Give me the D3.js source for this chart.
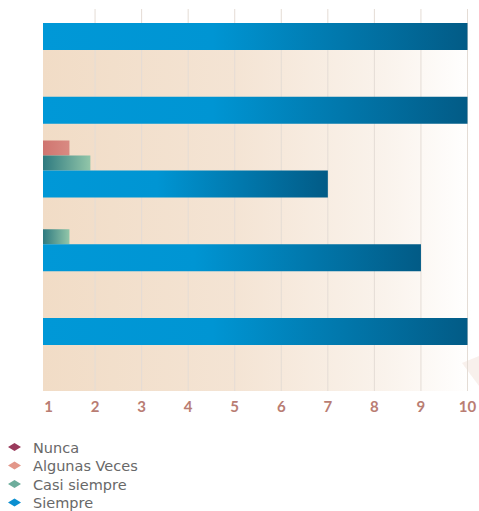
<!DOCTYPE html>
<html>
<head>
<meta charset="utf-8">
<script src="https://cdn.jsdelivr.net/npm/d3@7"></script>
<style>
  body { margin: 0; background: #ffffff; }
  svg { display: block; }
</style>
</head>
<body>
<div id="chart"></div>
<script>
// data
var categories = ["Q1", "Q2", "Q3", "Q4", "Q5"];
var nunca = [0, 0, 0, 0, 0];
var algunasVeces = [0, 0, 1.45, 0, 0];
var casiSiempre = [0, 0, 1.9, 1.45, 0];
var siempre = [10, 10, 7, 9, 10];
var ticks = [1, 2, 3, 4, 5, 6, 7, 8, 9, 10];
var seriesNames = ["Nunca", "Algunas Veces", "Casi siempre", "Siempre"];

var width = 479, height = 511;
var plotLeft = 43, plotRight = 472, plotTop = 27, plotBottom = 391;

var svg = d3.select("#chart")
    .append("svg")
    .attr("width", width)
    .attr("height", height);

var defs = svg.append("defs");

function linear(id, stops) {
    var g = defs.append("linearGradient")
        .attr("id", id)
        .attr("x1", "0%").attr("x2", "100%")
        .attr("y1", "0%").attr("y2", "0%");
    stops.forEach(function(s){
        g.append("stop").attr("offset", s[0]).attr("stop-color", s[1]);
    });
}
linear("bg", [["0%", "#f1dcc6"], ["45%", "#f4e4d4"], ["80%", "#faf3ec"], ["100%", "#ffffff"]]);
linear("blue", [["0%", "#0098d7"], ["40%", "#0095d3"], ["100%", "#025b86"]]);
linear("green", [["0%", "#2e7a80"], ["100%", "#92c6a9"]]);
linear("pink", [["0%", "#cf7570"], ["100%", "#d98a82"]]);
linear("maroon", [["0%", "#8c2f50"], ["100%", "#a5466a"]]);

var x = d3.scaleLinear()
    .domain([1, 10])
    .range([48.5, 467.5]);

// top of the "Siempre" bar in each group
var y = d3.scalePoint()
    .domain(categories)
    .range([23, 318]);

var bigH = 27, smallH = 15;

// plot background
svg.append("rect")
    .attr("x", plotLeft)
    .attr("y", plotTop)
    .attr("width", plotRight - plotLeft)
    .attr("height", plotBottom - plotTop)
    .attr("fill", "url(#bg)");

// faint decoration bottom right
svg.append("path")
    .attr("d", "M462,363 L479,356 L479,386 Z")
    .attr("fill", "#f5e9e4")
    .attr("opacity", 0.7);

// gridlines
svg.append("g")
    .selectAll("line")
    .data(ticks.slice(1))
    .enter()
    .append("line")
        .attr("x1", function(d){ return x(d); })
        .attr("x2", function(d){ return x(d); })
        .attr("y1", 9)
        .attr("y2", plotBottom)
        .attr("stroke", "#e4dcd5")
        .attr("stroke-width", 1);

// one series, bars stacked above the Siempre bar of each group
function drawSeries(values, fill, offset, h) {
    svg.append("g")
        .selectAll("rect")
        .data(values.map(function(v, i){ return {v: v, c: categories[i]}; }).filter(function(d){ return d.v > 0; }))
        .enter()
        .append("rect")
            .attr("x", plotLeft)
            .attr("y", function(d){ return y(d.c) + offset; })
            .attr("width", function(d){ return x(d.v) - plotLeft; })
            .attr("height", h)
            .attr("fill", fill);
}

drawSeries(nunca, "url(#maroon)", -3 * smallH, smallH);
drawSeries(algunasVeces, "url(#pink)", -2 * smallH, smallH);
drawSeries(casiSiempre, "url(#green)", -smallH, smallH);
drawSeries(siempre, "url(#blue)", 0, bigH);

// x tick labels
svg.append("g")
    .selectAll("text")
    .data(ticks)
    .enter()
    .append("text")
        .attr("x", function(d){ return x(d); })
        .attr("y", 412)
        .attr("text-anchor", "middle")
        .attr("font-family", "Lato, sans-serif")
        .attr("font-weight", "bold")
        .attr("font-size", "15px")
        .attr("fill", "#b97d73")
        .text(function(d){ return d; });

// legend
var legendColors = ["#9a3a5c", "#e3978a", "#6dad9c", "#0b8fd0"];
var legend = svg.append("g")
    .selectAll("g")
    .data(seriesNames)
    .enter()
    .append("g")
        .attr("transform", function(d, i){ return "translate(0," + (447 + i * 18.5) + ")"; });

legend.append("path")
    .attr("d", "M8,0 L14.5,-4 L21,0 L14.5,4 Z")
    .attr("fill", function(d, i){ return legendColors[i]; });

legend.append("text")
    .attr("x", 33)
    .attr("y", 5.5)
    .attr("font-family", "'DejaVu Sans', sans-serif")
    .attr("font-size", "14.5px")
    .attr("fill", "#686868")
    .text(function(d){ return d; });
</script>
</body>
</html>
